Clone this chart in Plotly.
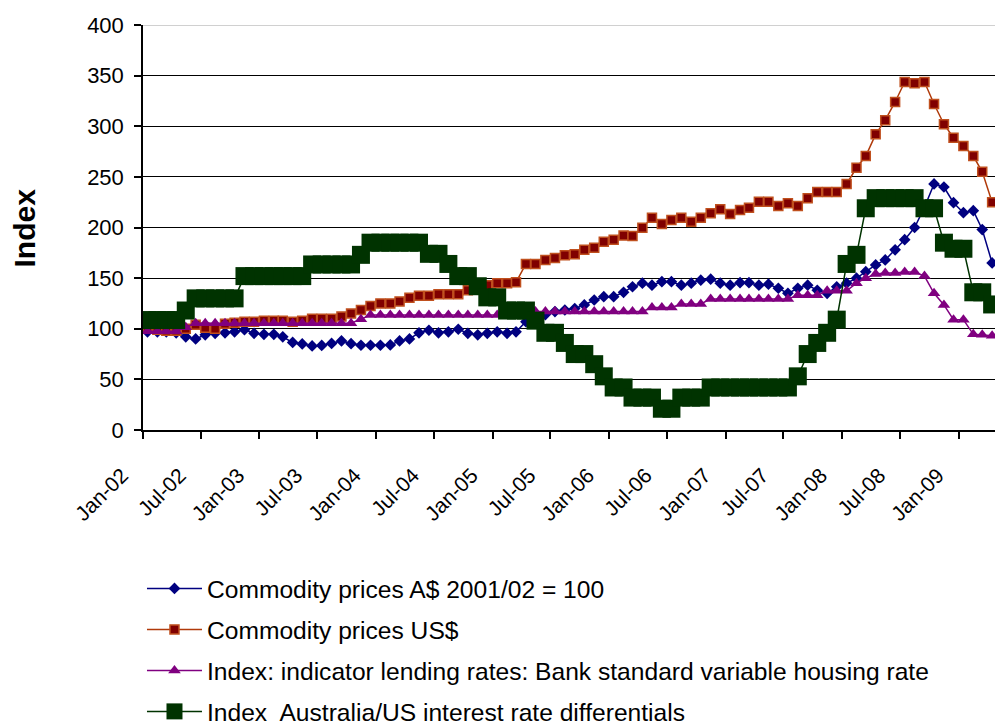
import plotly.graph_objects as go
import pandas as pd

# Monthly observations, Jan-2002 .. Apr-2009
months = pd.date_range("2002-01-01", periods=88, freq="MS")
x_points = months + pd.Timedelta(days=14)   # Excel "between tick marks" placement

series_names = [
    "Commodity prices A$ 2001/02 = 100",
    "Commodity prices US$",
    "Index: indicator lending rates: Bank standard variable housing rate",
    "Index  Australia/US interest rate differentials",
]

commodity_aud = [
    97, 97, 97, 96, 92, 90, 94, 95.5, 96, 97,
    99, 95.5, 94.5, 94.5, 92, 86.5, 85, 83, 83.5, 85.5,
    88, 85.3, 83.7, 83.7, 83.7, 84, 88, 90, 96, 98.5,
    96, 97, 99.5, 95.5, 94, 95.5, 97, 95.5, 97, 107,
    111, 114, 117, 118.5, 120, 123.5, 128.4, 131.7, 131.7, 136,
    141.5, 145, 143, 146.5, 146.5, 143, 145, 148, 149, 145,
    143, 145.5, 145.5, 143, 144, 140, 135, 140, 143, 138,
    135, 141.5, 145, 150, 156.4, 163, 168, 178, 188, 200,
    220, 243, 240, 224.5, 214.6, 216.6, 198, 165,
]

commodity_usd = [
    100, 99, 98, 98, 100, 104, 101, 100, 105, 106,
    107, 107, 108, 108, 108, 107, 108, 110, 110, 110,
    112, 115, 118.5, 122.5, 125, 125, 127, 130.7, 132.7, 132.7,
    134, 134, 134, 138, 140, 143, 145, 145, 146, 164,
    164, 168, 170, 172.5, 173.5, 178, 180, 186, 188, 192,
    191.6, 199.8, 209.7, 203.5, 207.4, 209.7, 205.7, 209.7, 214, 218,
    213.3, 217.3, 219.6, 225.5, 225.5, 221.2, 223.9, 221.2, 228.8, 235,
    235, 235, 243, 259, 270.6, 292, 306, 324, 343.7, 342.4,
    343.7, 322, 302, 288.7, 280.5, 270.6, 255, 224.9,
]

lending_rate = [
    97.5, 97.5, 97.5, 97.5, 101.5, 105.5, 105.5, 105.5, 105.5, 105.5,
    105.5, 105.5, 105.5, 105.5, 105.5, 105.5, 105.5, 105.5, 105.5, 105.5,
    105.5, 105.5, 109.5, 113.5, 113.5, 113.5, 113.5, 113.5, 113.5, 113.5,
    113.5, 113.5, 113.5, 113.5, 113.5, 113.5, 113.5, 113.5, 117, 117,
    117, 117, 117, 117, 117, 117, 117, 117, 117, 117,
    117, 117, 121, 121, 121, 124.5, 124.5, 124.5, 129.5, 129.5,
    129.5, 129.5, 129.5, 129.5, 129.5, 129.5, 129.5, 133, 133, 133,
    137.5, 137.5, 137.5, 145, 150, 154, 155, 155, 156, 156,
    152, 135, 123.5, 109, 109, 94.5, 94, 93,
]

rate_differential = [
    108.6, 108.6, 108.6, 108.6, 118, 130, 130, 130, 130, 130,
    152, 152, 152, 152, 152, 152, 152, 163.5, 163.5, 163.5,
    163.5, 163.5, 173, 185, 185, 185, 185, 185, 185, 174,
    174, 164, 152, 152, 142, 131, 131, 118, 118, 118,
    108, 96, 96, 86, 75, 75, 65, 53, 42, 42,
    32, 32, 32, 21, 21, 32, 32, 32, 42, 42,
    42, 42, 42, 42, 42, 42, 42, 53, 75, 86,
    96, 109, 164, 173, 219, 229, 229, 229, 229, 229,
    219, 219, 185, 179, 179, 136, 136, 124,
]

y_ticks = [0, 50, 100, 150, 200, 250, 300, 350, 400]
y_title = "Index"

styles = [
    dict(line=dict(color="#000080", width=1.5),
         marker=dict(symbol="diamond", size=9, color="#000080")),
    dict(line=dict(color="#B03A0A", width=1.5),
         marker=dict(symbol="square", size=9, color="#800000",
                     line=dict(color="#C0501E", width=1.5))),
    dict(line=dict(color="#800080", width=1.5),
         marker=dict(symbol="triangle-up", size=11, color="#800080")),
    dict(line=dict(color="#003300", width=1.5),
         marker=dict(symbol="square", size=18, color="#003300")),
]

fig = go.Figure()
for i, (name, vals) in enumerate(zip(series_names,
                                      [commodity_aud, commodity_usd, lending_rate, rate_differential])):
    fig.add_trace(go.Scatter(
        x=x_points, y=vals, name=name, mode="lines+markers",
        legendgroup=f"g{i}", cliponaxis=True, **styles[i],
    ))

font_family = "Liberation Sans, Arial, sans-serif"

fig.update_layout(
    width=995, height=724,
    margin=dict(l=143, r=0, t=25, b=294, autoexpand=False),
    paper_bgcolor="white", plot_bgcolor="white",
    font=dict(family=font_family, color="black"),
    showlegend=True,
    legend=dict(
        xref="container", yref="container",
        x=0.1427, xanchor="left", y=0.2183, yanchor="top",
        font=dict(size=24.6, family=font_family, color="black"),
        itemwidth=55, tracegroupgap=6, traceorder="grouped",
        bgcolor="rgba(0,0,0,0)",
    ),
    xaxis=dict(
        type="date",
        range=["2002-01-01", "2009-04-24"],
        tick0="2002-01-01", dtick="M6", tickformat="%b-%y",
        tickangle=-45, ticks="outside", ticklen=7, tickwidth=1.5, tickcolor="black",
        showline=True, linecolor="black", linewidth=1.5,
        showgrid=False, zeroline=False, automargin=False,
        ticklabelstandoff=16, ticklabelshift=-21,
        tickfont=dict(size=21, family=font_family, color="black"),
    ),
    yaxis=dict(
        range=[0, 400], tickvals=y_ticks,
        ticks="outside", ticklen=7, tickwidth=1.5, tickcolor="black",
        showline=True, linecolor="black", linewidth=1.5,
        showgrid=True, gridcolor="black", gridwidth=1.3,
        zeroline=False, automargin=False,
        tickfont=dict(size=22, family=font_family, color="black"),
        ticklabelstandoff=6,
    ),
)

fig.add_annotation(
    text=f"<b>{y_title}</b>", xref="paper", yref="paper",
    x=-0.1385, y=0.5, xanchor="center", yanchor="middle",
    textangle=-90, showarrow=False,
    font=dict(size=30, family=font_family, color="black"),
)

fig.add_shape(type="line", xref="paper", yref="y", x0=0, x1=1, y0=400, y1=400,
              line=dict(color="#c0c0c0", width=1.5), layer="above")

# remove the default page margin so the figure fills the window exactly
fig.write_html("out.html",
               config={"displayModeBar": False},
               post_script="document.body.style.margin='0px';document.body.style.overflow='hidden';")
